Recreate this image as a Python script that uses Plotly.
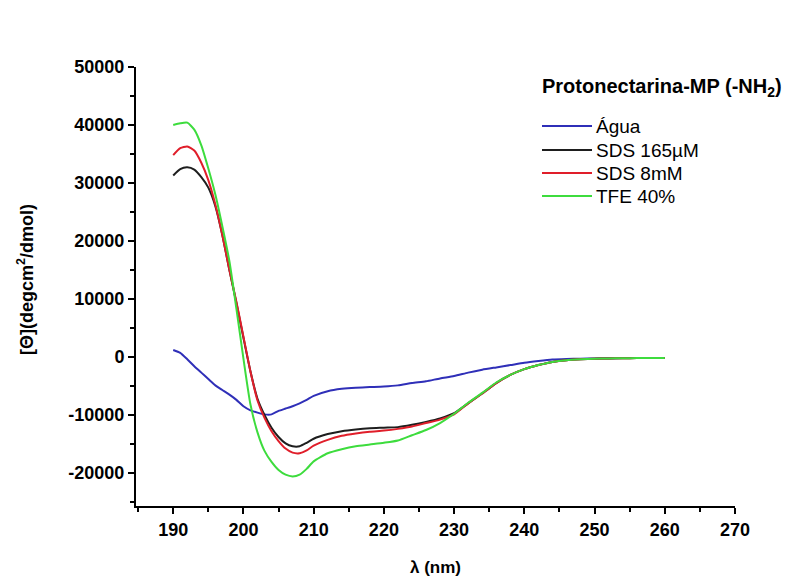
import plotly.graph_objects as go

wavelength = [190, 191, 192, 193, 194, 195, 196, 197, 198, 199, 200, 201, 202, 203, 204,
              205, 206, 207, 208, 209, 210, 212, 214, 216, 218, 220, 222, 224, 226, 228,
              230, 232, 234, 236, 238, 240, 242, 244, 246, 248, 250, 252, 254, 256, 258, 260]

agua = [1200, 700, -400, -1600, -2700, -3800, -4900, -5700, -6500, -7400, -8500, -9200, -9600,
        -9900, -9900, -9300, -8900, -8500, -8000, -7400, -6700, -5900, -5500, -5300, -5200,
        -5100, -4900, -4500, -4200, -3700, -3300, -2700, -2200, -1800, -1400, -1000, -700,
        -450, -350, -300, -250, -220, -200, -200, -200, -200]

sds_165 = [31300, 32400, 32700, 32300, 31000, 29200, 26000, 21000, 15000, 9300, 3300, -2500,
           -7200, -10000, -12200, -13800, -14900, -15400, -15400, -14800, -14100, -13300,
           -12800, -12500, -12300, -12200, -12100, -11700, -11200, -10600, -9700, -8000,
           -6300, -4500, -3100, -2100, -1400, -850, -550, -400, -300, -250, -220, -200, -200, -200]

sds_8 = [34800, 36000, 36300, 35600, 33500, 30500, 26300, 21000, 15000, 9500, 3500, -2500,
         -7500, -10500, -12800, -14500, -15800, -16500, -16600, -16100, -15300, -14300,
         -13600, -13200, -12900, -12700, -12400, -12000, -11400, -10800, -9900, -8000,
         -6300, -4500, -3100, -2100, -1400, -850, -550, -400, -300, -250, -220, -200, -200, -200]

tfe_40 = [40000, 40300, 40400, 39200, 36500, 32500, 28000, 22500, 16500, 8300, -300, -8200,
          -13000, -16200, -18100, -19500, -20300, -20600, -20300, -19300, -18000, -16600,
          -15900, -15400, -15100, -14800, -14400, -13500, -12600, -11400, -9800, -7900,
          -6200, -4400, -3100, -2100, -1400, -850, -550, -400, -300, -250, -220, -200, -200, -200]

series_names = ["Água", "SDS 165µM", "SDS 8mM", "TFE 40%"]
series_values = [agua, sds_165, sds_8, tfe_40]
series_colors = ["#2f2fb8", "#1e1e1e", "#e01e2a", "#3ddc3d"]
legend_title = "<b>Protonectarina-MP (-NH<sub>2</sub>)</b>"
y_title = "<b>[Θ](degcm<sup>2</sup>/dmol)</b>"
x_title = "<b>λ (nm)</b>"

x_ticks = [190, 200, 210, 220, 230, 240, 250, 260, 270]
y_ticks = [-20000, -10000, 0, 10000, 20000, 30000, 40000, 50000]

W, H = 790, 577
ML, MR, MT, MB = 136, 55, 67, 71
PW, PH = W - ML - MR, H - MT - MB


def px_x(px):
    return (px - ML) / PW


def px_y(py):
    return (H - MB - py) / PH


fig = go.Figure()
for name, vals, col in zip(series_names, series_values, series_colors):
    fig.add_trace(go.Scatter(x=wavelength, y=vals, mode="lines", name=name, showlegend=False,
                             line=dict(color=col, width=2, shape="spline", smoothing=0.6)))

font_family = "Liberation Sans, Arial, sans-serif"

annotations = [
    dict(text=legend_title, xref="paper", yref="paper", x=px_x(540), y=px_y(88),
         xanchor="left", yanchor="middle", showarrow=False,
         font=dict(size=20, family=font_family, color="black")),
    dict(text=y_title, xref="paper", yref="paper", x=px_x(25), y=px_y(280),
         xanchor="center", yanchor="middle", textangle=-90, showarrow=False,
         font=dict(size=18, family=font_family, color="black")),
]
shapes = []
row_y = [126, 150, 173, 196]
for name, col, ry in zip(series_names, series_colors, row_y):
    shapes.append(dict(type="line", xref="paper", yref="paper", x0=px_x(542), x1=px_x(592),
                       y0=px_y(ry), y1=px_y(ry), line=dict(color=col, width=2)))
    annotations.append(dict(text=name, xref="paper", yref="paper", x=px_x(594), y=px_y(ry),
                            xanchor="left", yanchor="middle", showarrow=False,
                            font=dict(size=19, family=font_family, color="black")))

fig.update_layout(
    width=W, height=H,
    margin=dict(l=ML, r=MR, t=MT, b=MB),
    paper_bgcolor="white", plot_bgcolor="white",
    font=dict(family=font_family, color="black", size=18),
    showlegend=False,
    annotations=annotations,
    shapes=shapes,
    xaxis=dict(
        range=[184.7, 270], tickvals=x_ticks, ticktext=[str(v) for v in x_ticks],
        showgrid=False, zeroline=False, showline=True, linecolor="black", linewidth=2,
        ticks="outside", ticklen=6, tickwidth=2, tickcolor="black", automargin=False,
        tickfont=dict(size=18, family=font_family, weight="bold"),
        minor=dict(dtick=5, tick0=185, ticks="outside", ticklen=4, tickwidth=2, tickcolor="black"),
        title=dict(text=x_title, font=dict(size=17, family=font_family), standoff=24),
    ),
    yaxis=dict(
        range=[-25700, 50000], tickvals=y_ticks, ticktext=[str(v) for v in y_ticks],
        showgrid=False, zeroline=False, showline=True, linecolor="black", linewidth=2,
        ticks="outside", ticklen=6, tickwidth=2, tickcolor="black", automargin=False,
        tickfont=dict(size=18, family=font_family, weight="bold"),
        minor=dict(dtick=5000, tick0=-25000, ticks="outside", ticklen=4, tickwidth=2, tickcolor="black"),
    ),
)

fig.write_html("out.html")
